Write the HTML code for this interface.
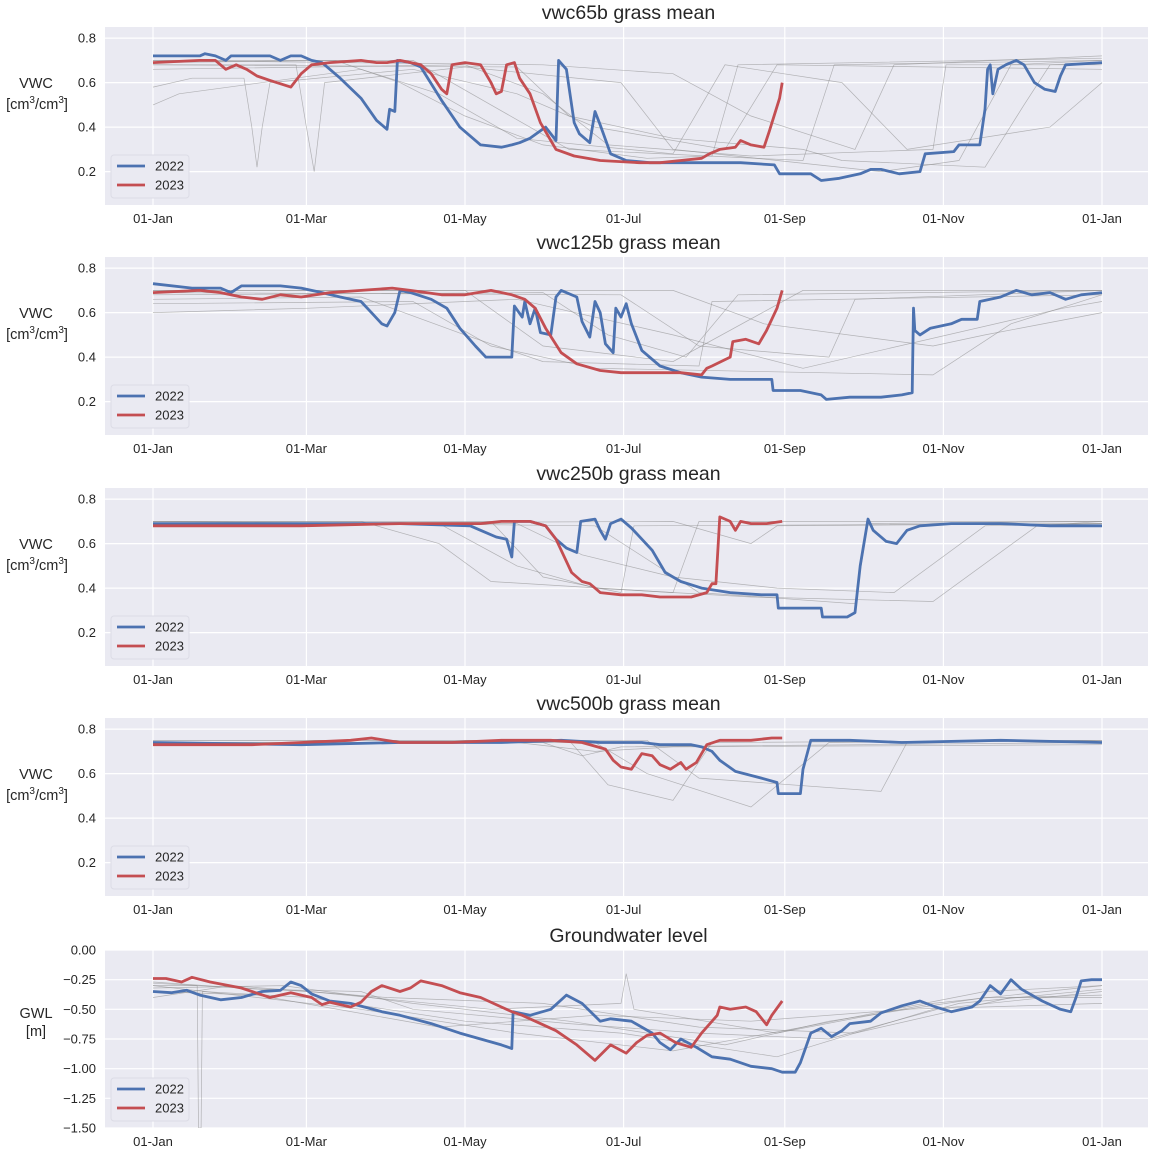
<!DOCTYPE html>
<html><head><meta charset="utf-8">
<style>
body{margin:0;background:#fff;}
svg{display:block;font-family:"Liberation Sans","DejaVu Sans",sans-serif;}
</style></head>
<body>
<svg id="fig" width="1152" height="1152" viewBox="0 0 1152 1152" xmlns="http://www.w3.org/2000/svg"></svg>
<script>
// ---- data (day of year, value) ----
const monthTickDays = [0, 59, 120, 181, 243, 304, 365];
const monthTickLabels = ["01-Jan","01-Mar","01-May","01-Jul","01-Sep","01-Nov","01-Jan"];
const vwcTicks = [0.2, 0.4, 0.6, 0.8];
const gwlTicks = [0, -0.25, -0.5, -0.75, -1.0, -1.25, -1.5];
const gwlTickLabels = ["0.00","\u22120.25","\u22120.50","\u22120.75","\u22121.00","\u22121.25","\u22121.50"];
const panelTitles = ["vwc65b grass mean","vwc125b grass mean","vwc250b grass mean","vwc500b grass mean","Groundwater level"];

const blue65 = [[0,0.72],[18,0.72],[20,0.73],[24,0.72],[28,0.70],[30,0.72],[45,0.72],[49,0.70],[53,0.72],[57,0.72],[61,0.70],[65,0.69],[72,0.62],[80,0.53],[86,0.43],[90,0.39],[91,0.48],[93,0.47],[94,0.70],[99,0.69],[103,0.67],[111,0.52],[118,0.40],[126,0.32],[134,0.31],[138,0.32],[141,0.33],[145,0.35],[151,0.40],[155,0.34],[156,0.70],[159,0.66],[162,0.42],[164,0.37],[168,0.33],[170,0.47],[172,0.41],[176,0.28],[182,0.25],[191,0.24],[211,0.24],[226,0.24],[239,0.23],[241,0.19],[253,0.19],[257,0.16],[264,0.17],[272,0.19],[276,0.21],[280,0.21],[287,0.19],[295,0.20],[297,0.28],[308,0.29],[310,0.32],[318,0.32],[320,0.48],[321,0.66],[322,0.68],[323,0.55],[325,0.66],[328,0.68],[332,0.70],[335,0.68],[339,0.60],[343,0.57],[347,0.56],[349,0.63],[351,0.68],[365,0.69]];
const red65 = [[0,0.69],[18,0.70],[24,0.70],[28,0.66],[32,0.68],[36,0.66],[40,0.63],[45,0.61],[53,0.58],[57,0.64],[61,0.68],[68,0.69],[80,0.70],[86,0.69],[90,0.69],[95,0.70],[103,0.68],[107,0.64],[111,0.57],[113,0.55],[115,0.68],[120,0.69],[126,0.68],[130,0.60],[132,0.55],[134,0.56],[136,0.68],[139,0.69],[141,0.62],[145,0.55],[149,0.42],[155,0.30],[162,0.27],[172,0.25],[187,0.24],[195,0.24],[203,0.25],[211,0.26],[214,0.28],[218,0.30],[224,0.31],[226,0.34],[230,0.32],[235,0.31],[237,0.38],[241,0.53],[242,0.60]];
const gray65 = [
 [[0,0.70],[100,0.70],[130,0.50],[160,0.30],[250,0.25],[262,0.68],[365,0.70]],
 [[0,0.58],[15,0.62],[35,0.62],[38,0.40],[40,0.22],[42,0.40],[45,0.60],[100,0.66],[140,0.55],[170,0.40],[220,0.30],[240,0.68],[365,0.66]],
 [[0,0.68],[55,0.68],[59,0.40],[62,0.20],[64,0.40],[66,0.60],[120,0.67],[180,0.60],[200,0.30],[280,0.20],[310,0.25],[330,0.68],[365,0.70]],
 [[0,0.66],[120,0.68],[150,0.55],[175,0.32],[230,0.27],[300,0.30],[305,0.68],[365,0.68]],
 [[0,0.70],[150,0.68],[200,0.64],[230,0.45],[270,0.30],[285,0.68],[365,0.72]],
 [[0,0.50],[10,0.55],[80,0.66],[110,0.55],[140,0.35],[200,0.28],[220,0.68],[265,0.60],[290,0.30],[345,0.40],[365,0.60]],
 [[0,0.69],[70,0.70],[95,0.60],[120,0.45],[150,0.32],[190,0.26],[215,0.27],[225,0.68],[365,0.71]],
 [[0,0.68],[140,0.67],[160,0.45],[200,0.35],[250,0.30],[265,0.25],[320,0.22],[335,0.50],[345,0.68],[365,0.69]]
];
const blue125 = [[0,0.73],[15,0.71],[26,0.71],[30,0.69],[34,0.72],[49,0.72],[57,0.71],[65,0.69],[72,0.67],[80,0.65],[84,0.60],[88,0.55],[90,0.54],[92,0.58],[93,0.60],[95,0.70],[99,0.69],[107,0.66],[113,0.62],[118,0.53],[124,0.45],[128,0.40],[138,0.40],[139,0.63],[142,0.58],[143,0.65],[145,0.55],[147,0.62],[149,0.51],[153,0.50],[155,0.67],[157,0.70],[163,0.67],[165,0.56],[168,0.49],[170,0.65],[172,0.60],[174,0.46],[177,0.42],[178,0.62],[180,0.58],[182,0.64],[184,0.55],[188,0.43],[195,0.36],[203,0.33],[211,0.31],[222,0.30],[234,0.30],[238,0.30],[238.5,0.25],[249,0.25],[257,0.23],[259,0.21],[268,0.22],[280,0.22],[288,0.23],[292,0.24],[292.5,0.62],[293,0.52],[295,0.50],[299,0.53],[307,0.55],[311,0.57],[317,0.57],[318,0.65],[326,0.67],[332,0.70],[338,0.68],[345,0.69],[351,0.66],[357,0.68],[365,0.69]];
const red125 = [[0,0.69],[18,0.70],[26,0.69],[34,0.67],[42,0.66],[49,0.68],[57,0.67],[68,0.69],[80,0.70],[92,0.71],[99,0.70],[111,0.68],[120,0.68],[130,0.70],[138,0.68],[143,0.66],[147,0.62],[151,0.53],[157,0.42],[163,0.37],[172,0.34],[180,0.33],[192,0.33],[203,0.33],[211,0.32],[213,0.35],[215,0.36],[222,0.40],[223,0.47],[228,0.48],[233,0.46],[236,0.52],[240,0.62],[242,0.70]];
const gray125 = [
 [[0,0.70],[120,0.70],[150,0.45],[200,0.38],[250,0.70],[365,0.70]],
 [[0,0.66],[80,0.67],[120,0.50],[150,0.38],[210,0.36],[215,0.65],[365,0.68]],
 [[0,0.69],[180,0.68],[210,0.45],[260,0.40],[270,0.66],[365,0.70]],
 [[0,0.64],[100,0.65],[130,0.45],[170,0.35],[300,0.32],[330,0.55],[365,0.68]],
 [[0,0.70],[200,0.70],[235,0.55],[300,0.45],[320,0.50],[365,0.60]],
 [[0,0.60],[60,0.62],[140,0.66],[200,0.50],[250,0.35],[350,0.62],[365,0.65]],
 [[0,0.68],[150,0.69],[175,0.50],[205,0.40],[225,0.68],[365,0.70]]
];
const blue250 = [[0,0.69],[57,0.69],[95,0.69],[122,0.68],[126,0.66],[132,0.63],[136,0.62],[138,0.54],[139,0.70],[145,0.70],[151,0.68],[155,0.62],[159,0.58],[163,0.56],[164.5,0.70],[170,0.71],[172,0.66],[174,0.62],[176,0.69],[180,0.71],[184,0.67],[192,0.57],[197,0.47],[203,0.43],[211,0.40],[222,0.38],[234,0.37],[240,0.37],[240.5,0.31],[249,0.31],[257,0.31],[257.5,0.27],[267,0.27],[270,0.29],[272,0.50],[275,0.71],[277,0.66],[282,0.61],[286,0.60],[290,0.66],[295,0.68],[307,0.69],[326,0.69],[345,0.68],[365,0.68]];
const red250 = [[0,0.68],[38,0.68],[57,0.68],[95,0.69],[126,0.69],[134,0.70],[145,0.70],[151,0.68],[155,0.62],[161,0.47],[165,0.43],[168,0.42],[170,0.40],[172,0.38],[180,0.37],[188,0.37],[195,0.36],[207,0.36],[213,0.38],[215,0.42],[216.5,0.42],[218,0.72],[222,0.70],[224,0.66],[226,0.70],[230,0.69],[236,0.69],[242,0.70]];
const gray250 = [
 [[0,0.70],[80,0.70],[110,0.60],[130,0.43],[200,0.38],[210,0.70],[365,0.70]],
 [[0,0.69],[110,0.69],[140,0.50],[170,0.40],[230,0.36],[300,0.34],[340,0.68],[365,0.70]],
 [[0,0.70],[130,0.70],[150,0.45],[180,0.38],[185,0.68],[365,0.69]],
 [[0,0.69],[200,0.70],[230,0.60],[240,0.68],[365,0.69]],
 [[0,0.70],[170,0.68],[210,0.38],[270,0.33],[275,0.69],[365,0.70]],
 [[0,0.69],[140,0.69],[165,0.55],[200,0.45],[240,0.40],[285,0.38],[320,0.68],[365,0.69]]
];
const blue500 = [[0,0.74],[57,0.73],[95,0.74],[115,0.74],[134,0.74],[157,0.75],[172,0.74],[188,0.74],[195,0.73],[207,0.73],[211,0.72],[215,0.70],[218,0.66],[224,0.61],[234,0.58],[240,0.56],[240.5,0.51],[249,0.51],[250,0.62],[253,0.75],[268,0.75],[288,0.74],[326,0.75],[365,0.74]];
const red500 = [[0,0.73],[38,0.73],[57,0.74],[76,0.75],[84,0.76],[95,0.74],[115,0.74],[134,0.75],[153,0.75],[165,0.74],[174,0.71],[177,0.66],[180,0.63],[184,0.62],[188,0.69],[192,0.68],[195,0.64],[199,0.62],[203,0.65],[205,0.62],[209,0.65],[213,0.73],[218,0.75],[230,0.75],[238,0.76],[242,0.76]];
const gray500 = [
 [[0,0.75],[160,0.75],[175,0.55],[200,0.48],[215,0.74],[365,0.75]],
 [[0,0.74],[170,0.74],[190,0.60],[230,0.45],[260,0.74],[365,0.75]],
 [[0,0.75],[190,0.75],[210,0.58],[280,0.52],[290,0.74],[365,0.75]],
 [[0,0.74],[150,0.74],[165,0.68],[180,0.72],[365,0.74]],
 [[0,0.73],[140,0.74],[170,0.70],[200,0.72],[365,0.73]]
];
const blueGwl = [[0,-0.35],[7,-0.36],[13,-0.34],[18,-0.38],[26,-0.42],[34,-0.40],[42,-0.35],[49,-0.34],[53,-0.27],[57,-0.30],[61,-0.37],[68,-0.43],[76,-0.45],[88,-0.52],[95,-0.55],[107,-0.62],[118,-0.70],[126,-0.75],[134,-0.80],[138,-0.83],[138.5,-0.52],[145,-0.55],[153,-0.50],[159,-0.38],[165,-0.45],[172,-0.60],[176,-0.58],[184,-0.60],[192,-0.70],[195,-0.78],[199,-0.84],[203,-0.75],[209,-0.82],[215,-0.90],[222,-0.92],[230,-0.98],[238,-1.00],[242,-1.03],[247,-1.03],[249,-0.95],[253,-0.70],[257,-0.66],[261,-0.73],[265,-0.68],[268,-0.62],[276,-0.60],[280,-0.53],[288,-0.47],[295,-0.43],[301,-0.48],[307,-0.52],[315,-0.48],[318,-0.43],[322,-0.30],[326,-0.37],[330,-0.25],[334,-0.33],[342,-0.43],[349,-0.50],[353,-0.52],[355,-0.40],[357,-0.26],[361,-0.25],[365,-0.25]];
const redGwl = [[0,-0.24],[5,-0.24],[11,-0.27],[15,-0.23],[22,-0.27],[34,-0.32],[45,-0.40],[53,-0.36],[61,-0.40],[65,-0.46],[68,-0.44],[76,-0.48],[80,-0.44],[84,-0.35],[88,-0.30],[95,-0.35],[99,-0.32],[103,-0.26],[111,-0.30],[118,-0.36],[126,-0.40],[134,-0.48],[138,-0.52],[142,-0.55],[147,-0.60],[155,-0.68],[163,-0.80],[170,-0.93],[176,-0.80],[182,-0.87],[186,-0.78],[190,-0.72],[195,-0.70],[201,-0.78],[207,-0.82],[211,-0.70],[217,-0.55],[218,-0.48],[222,-0.50],[228,-0.48],[232,-0.52],[236,-0.63],[238,-0.55],[242,-0.43]];
const grayGwl = [
 [[0,-0.30],[17,-0.30],[17.5,-1.5],[18.5,-1.5],[19,-0.35],[60,-0.40],[120,-0.60],[180,-0.70],[240,-0.90],[300,-0.50],[365,-0.35]],
 [[0,-0.28],[60,-0.35],[130,-0.50],[180,-0.45],[182,-0.20],[185,-0.50],[240,-0.70],[300,-0.45],[365,-0.30]],
 [[0,-0.32],[50,-0.30],[100,-0.45],[160,-0.60],[220,-0.80],[260,-0.60],[320,-0.40],[365,-0.40]],
 [[0,-0.30],[80,-0.50],[140,-0.70],[200,-0.85],[250,-0.65],[320,-0.35],[365,-0.30]],
 [[0,-0.35],[40,-0.38],[110,-0.65],[170,-0.55],[230,-0.60],[290,-0.50],[365,-0.45]],
 [[0,-0.40],[30,-0.30],[90,-0.40],[150,-0.45],[210,-0.65],[270,-0.70],[330,-0.40],[365,-0.38]],
 [[0,-0.27],[40,-0.33],[80,-0.35],[100,-0.50],[160,-0.62],[210,-0.70],[260,-0.75],[310,-0.45],[365,-0.33]]
];

const panels = [
 {blue: blue65, red: red65, gray: gray65, gwl:false},
 {blue: blue125, red: red125, gray: gray125, gwl:false},
 {blue: blue250, red: red250, gray: gray250, gwl:false},
 {blue: blue500, red: red500, gray: gray500, gwl:false},
 {blue: blueGwl, red: redGwl, gray: grayGwl, gwl:true}
];

// ---- drawing ----
const NS = "http://www.w3.org/2000/svg";
const svg = document.getElementById("fig");
const L = 105, R = 1148, H = 178;
const tops = [27, 257, 488, 718, 950];
function mk(tag, attrs, parent){const e=document.createElementNS(NS,tag);for(const k in attrs)e.setAttribute(k,attrs[k]);(parent||svg).appendChild(e);return e;}
const xScale = d => 153 + d * (1102 - 153) / 365;

panels.forEach((p, i) => {
  const top = tops[i], bot = top + H;
  const g = mk("g", {});
  
  
  let ymin, ymax;
  if (p.gwl) { ymin = -1.5; ymax = 0; } else { ymin = 0.05; ymax = 0.85; }
  const yScale = v => bot - (v - ymin) / (ymax - ymin) * H;
  const bg = mk("rect", {x:L, y:top, width:R-L, height:H, fill:"#EAEAF2"}, g);
  
  
  monthTickDays.forEach((d, j) => {
    const x = xScale(d);
    mk("line", {x1:x, x2:x, y1:top, y2:bot, stroke:"#fff", "stroke-width":1.2}, g);
    const t = mk("text", {x:x, y:bot+18, "text-anchor":"middle", "font-size":13, fill:"#262626"}, g);
    t.textContent = monthTickLabels[j];
    
    
  });
  const ticks = p.gwl ? gwlTicks : vwcTicks;
  ticks.forEach((v, j) => {
    const y = yScale(v);
    mk("line", {x1:L, x2:R, y1:y, y2:y, stroke:"#fff", "stroke-width":1.2}, g);
    const t = mk("text", {x:L-9, y:y+4.5, "text-anchor":"end", "font-size":13, fill:"#262626"}, g);
    t.textContent = p.gwl ? gwlTickLabels[j] : v.toFixed(1);
    
    
  });
  const clipId = "clip" + i;
  const cp = mk("clipPath", {id: clipId}, g);
  mk("rect", {x:L, y:top, width:R-L, height:H}, cp);
  const path = pts => pts.map((q, k) => (k ? "L" : "M") + xScale(q[0]).toFixed(1) + "," + yScale(q[1]).toFixed(1)).join("");
  p.gray.forEach(s => {
    const e = mk("path", {d:path(s), fill:"none", stroke:"#8c8c8c", "stroke-opacity":0.6, "stroke-width":0.7, "clip-path":"url(#"+clipId+")"}, g);
    
    
  });
  const b = mk("path", {d:path(p.blue), fill:"none", stroke:"#4C72B0", "stroke-width":2.8, "stroke-linejoin":"round", "clip-path":"url(#"+clipId+")"}, g);
  
  
  const r = mk("path", {d:path(p.red), fill:"none", stroke:"#C44E52", "stroke-width":2.8, "stroke-linejoin":"round", "clip-path":"url(#"+clipId+")"}, g);
  
  
  const tt = mk("text", {x:(L+R)/2 + 2, y:top-8, "text-anchor":"middle", "font-size":19.5, fill:"#262626"}, g);
  tt.textContent = panelTitles[i];
  
  
  const yl = mk("text", {x:36, y: p.gwl ? top+68 : top+61, "text-anchor":"middle", "font-size":14.5, fill:"#262626"}, g);
  
  
  if (p.gwl) {
    yl.textContent = "GWL";
    const y2 = mk("text", {x:36, y:top+86, "text-anchor":"middle", "font-size":14.5, fill:"#262626"}, g);
    y2.textContent = "[m]";
    
    
  } else {
    yl.textContent = "VWC";
    const y2 = mk("text", {x:37, y:top+82, "text-anchor":"middle", "font-size":14.5, fill:"#262626"}, g);
    y2.innerHTML = '[cm<tspan dy="-6" font-size="10">3</tspan><tspan dy="6">/cm</tspan><tspan dy="-6" font-size="10">3</tspan><tspan dy="6">]</tspan>';
    
    
  }
  const lg = mk("g", {}, g);
  
  
  mk("rect", {x:111, y:bot-50, width:78, height:43, rx:3, fill:"#EAEAF2", stroke:"#dcdce6", "stroke-width":1}, lg);
  [["2022","#4C72B0"],["2023","#C44E52"]].forEach((e, k) => {
    const y = bot - 39 + k * 19;
    mk("line", {x1:117, x2:145, y1:y, y2:y, stroke:e[1], "stroke-width":2.8}, lg);
    const t = mk("text", {x:155, y:y+4.5, "font-size":13, fill:"#262626"}, lg);
    t.textContent = e[0];
    
    
  });
});
</script>
</body></html>
